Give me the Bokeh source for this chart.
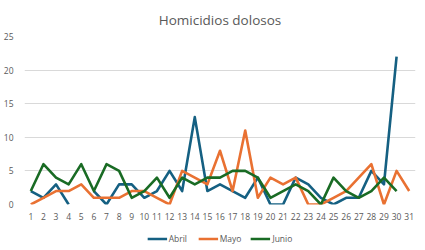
import numpy as np
from bokeh.plotting import figure
from bokeh.layouts import column
from bokeh.models import ColumnDataSource, Legend, LegendItem, Range1d, FixedTicker
from bokeh.embed import file_html
from bokeh.resources import INLINE

nan = float("nan")
dias = list(range(1, 32))
abril = [2, 1, 3, 0, nan, 2, 0, 3, 3, 1, 2, 5, 2, 13, 2, 3, 2, 1, 4, 0, 0, 4, 3, 1, 0, 1, 1, 5, 3, 22, nan]
mayo = [0, 1, 2, 2, 3, 1, 1, 1, 2, 2, 1, 0, 5, 4, 3, 8, 2, 11, 1, 4, 3, 4, 0, 0, 1, 2, 4, 6, 0, 5, 2]
junio = [2, 6, 4, 3, 6, 2, 6, 5, 1, 2, 4, 1, 4, 3, 4, 4, 5, 5, 4, 1, 2, 3, 2, 0, 4, 2, 1, 2, 4, 2, nan]
y_ticks = [0, 5, 10, 15, 20, 25]

FONT = "Open Sans"
GRAY = "#595959"

p = figure(width=425, height=228, output_backend="svg", toolbar_location=None,
           x_range=Range1d(0.5, 31.5), y_range=Range1d(0, 25),
           min_border_left=21, min_border_right=10, min_border_top=36, min_border_bottom=24)
p.title.text = "Homicidios dolosos"
p.title.align = "center"
p.title.text_font = FONT
p.title.text_font_size = "13.5px"
p.title.text_font_style = "normal"
p.title.text_color = GRAY
p.title.standoff = 16
p.outline_line_color = None
p.background_fill_color = "white"
p.border_fill_color = "white"

p.xgrid.grid_line_color = None
p.ygrid.grid_line_color = "#d9d9d9"
p.ygrid.ticker = FixedTicker(ticks=y_ticks)

p.yaxis.ticker = FixedTicker(ticks=y_ticks)
p.xaxis.ticker = FixedTicker(ticks=dias)
for ax in (p.xaxis, p.yaxis):
    ax.axis_line_color = None
    ax.major_tick_line_color = None
    ax.minor_tick_line_color = None
    ax.major_label_text_font = FONT
    ax.major_label_text_font_size = "8.5px"
    ax.major_label_text_color = GRAY
p.yaxis.major_label_standoff = 5
p.xaxis.major_label_standoff = 2

colors = ["#156082", "#E97132", "#196B24"]
names = ["Abril", "Mayo", "Junio"]
for name, vals, c in zip(names, [abril, mayo, junio], colors):
    src = ColumnDataSource(dict(x=dias, y=vals))
    p.line("x", "y", source=src, line_color=c, line_width=2.6, line_join="round")

# legend strip below the chart (legend-only renderers hold no drawable points)
lf = figure(width=425, height=20, output_backend="svg", toolbar_location=None,
            x_range=Range1d(0, 1), y_range=Range1d(0, 1),
            min_border=0, min_border_left=0, min_border_right=0, min_border_top=0, min_border_bottom=0)
lf.axis.visible = False
lf.grid.visible = False
lf.outline_line_color = None
lf.background_fill_color = "white"
lf.border_fill_color = "white"
leg_renderers = []
for name, c in zip(names, colors):
    r = lf.line(x=[nan, nan], y=[nan, nan], line_color=c, line_width=2.6)
    leg_renderers.append(r)
legend = Legend(items=[LegendItem(label=n, renderers=[r], index=0) for n, r in zip(names, leg_renderers)],
                orientation="horizontal", location="center",
                background_fill_alpha=0, border_line_color=None,
                label_text_font=FONT, label_text_font_size="8.5px", label_text_color=GRAY,
                label_height=10, glyph_width=20, glyph_height=10, label_standoff=2, spacing=9,
                padding=0, margin=0)
lf.add_layout(legend, "center")

layout = column(p, lf, spacing=0)
open("out.html", "w").write(file_html(layout, INLINE))
